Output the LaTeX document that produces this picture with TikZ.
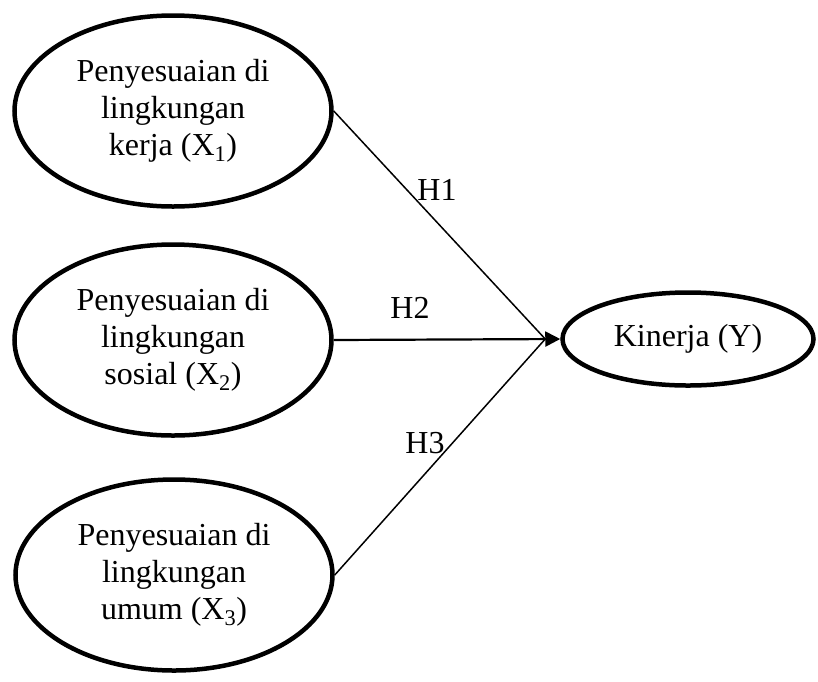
\documentclass[tikz,border=0pt]{standalone}
\usepackage{fontspec}
\setmainfont{Liberation Serif}
\usetikzlibrary{shapes.geometric}
\usetikzlibrary{arrows.meta}

\begin{document}
\begin{tikzpicture}[x=1pt, y=-1pt,
  var/.style={ellipse, draw, line width=4.5pt, minimum width=317pt, minimum height=191pt, align=center, inner sep=0pt},
  hyp/.style={line width=1.5pt}]
\useasboundingbox (0,0) rectangle (818,681);
\fontsize{32}{37}\selectfont

\node[var] (kerja) at (173,111) {Penyesuaian di\\lingkungan\\kerja (X\textsubscript{1})};
\node[var] (sosial) at (173,340) {Penyesuaian di\\lingkungan\\sosial (X\textsubscript{2})};
\node[var] (umum) at (174,575) {Penyesuaian di\\lingkungan\\umum (X\textsubscript{3})};
\node[var, minimum width=251pt, minimum height=93pt] (kinerja) at (688,339) {Kinerja (Y)};

\coordinate (temu) at ([xshift=-15pt]kinerja.west);
\draw[hyp] (kerja.east) -- (temu);
\draw[hyp] (umum.east) -- (temu);
\draw[line width=2.2pt, -{Triangle[length=15pt, width=15pt]}] (sosial.east) -- (kinerja.west);

\node (h1) at (437,190) {H1};
\node (h2) at (410,308) {H2};
\node (h3) at (425,443) {H3};
\end{tikzpicture}
\end{document}
